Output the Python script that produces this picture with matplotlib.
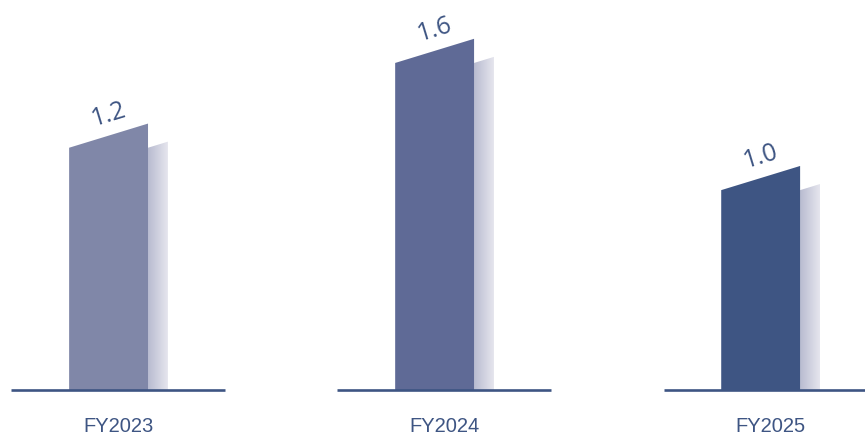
import numpy as np
import matplotlib
matplotlib.use("Agg")
import matplotlib.pyplot as plt
from matplotlib.patches import Polygon

# data
years = ["FY2023", "FY2024", "FY2025"]
values = [1.2, 1.6, 1.0]
labels = ["1.2", "1.6", "1.0"]
bar_colors = ["#8087a8", "#5f6a96", "#3e5583"]

line_color = "#3e5583"
text_color = "#3e5583"

# geometry (in axis units: 1 unit on x = spacing between groups)
bar_left = -0.150
bar_w = 0.242
shadow_w = 0.061
tilt = 0.057          # half the rise across the slanted top
line_half = 0.327

fig = plt.figure(figsize=(8.65, 4.36), dpi=100)
ax = fig.add_axes([0, 0, 1, 1])
ax.axis("off")

# gradient image used for the shadows
grad = np.linspace(0, 1, 256).reshape(1, -1)
shadow_cmap = matplotlib.colors.LinearSegmentedColormap.from_list(
    "shadow", ["#b8bbd0", "#e6e6ee"])

slope = 2 * tilt / bar_w

for i, (v, c) in enumerate(zip(values, bar_colors)):
    x0 = i + bar_left
    x1 = x0 + bar_w
    y_left = v - tilt
    y_right = v + tilt

    # shadow panel behind the bar
    sh_top_r = y_left + slope * shadow_w
    sh = Polygon([(x1, 0), (x1 + shadow_w, 0), (x1 + shadow_w, sh_top_r), (x1, y_left)],
                 closed=True, facecolor="none", edgecolor="none")
    ax.add_patch(sh)
    im = ax.imshow(grad, cmap=shadow_cmap, aspect="auto",
                   extent=(x1, x1 + shadow_w, 0, sh_top_r), zorder=1)
    im.set_clip_path(sh)

    # main bar with slanted top
    bar = Polygon([(x0, 0), (x1, 0), (x1, y_right), (x0, y_left)],
                  closed=True, facecolor=c, edgecolor="none", zorder=2)
    ax.add_patch(bar)

    # value label, tilted like the bar top
    ax.text(x0 + bar_w / 2, v + 0.1, labels[i], rotation=17, rotation_mode="anchor",
            ha="center", va="center", fontsize=18, color=text_color,
            family=["Open Sans", "DejaVu Sans"], fontstyle="normal",
            fontweight="normal", zorder=3)

    # baseline under each group
    ax.plot([i - line_half, i + line_half], [0, 0], color=line_color, lw=1.9,
            solid_capstyle="butt", zorder=3)

    # category label
    ax.text(i, -0.17, years[i], ha="center", va="center", fontsize=14.5,
            color=text_color, family=["Liberation Sans", "DejaVu Sans"])

ax.set_xlim(-0.362, 2.291)
ax.set_ylim(-0.217, 1.840)

fig.savefig("out.png", dpi=100)
